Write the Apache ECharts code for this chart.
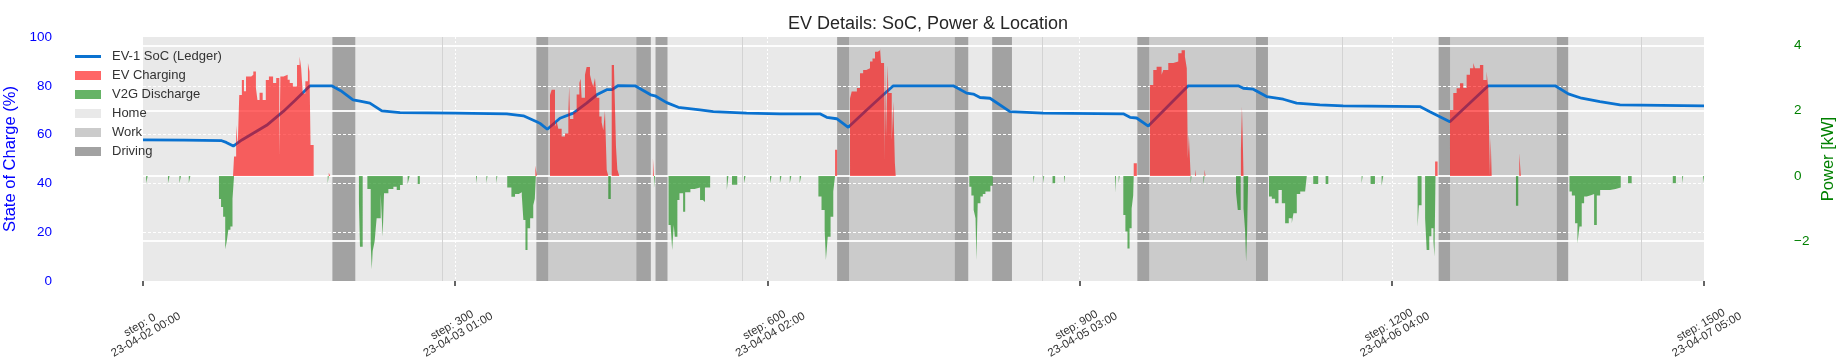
<!DOCTYPE html>
<html>
<head>
<meta charset="utf-8">
<script src="https://cdn.jsdelivr.net/npm/echarts@6/dist/echarts.min.js"></script>
<style>
html, body { margin: 0; padding: 0; background: #fff; }
#chart { width: 1836px; height: 363px; }
</style>
</head>
<body>
<div id="chart"></div>
<script>
// x ticks (simulation steps, 5 min each) and their date labels
var tickSteps = [0, 300, 600, 900, 1200, 1500];
var tickDates = ['23-04-02 00:00', '23-04-03 01:00', '23-04-04 02:00', '23-04-05 03:00', '23-04-06 04:00', '23-04-07 05:00'];
var stepsPerDay = 288;

// [step, SoC %]
var socPoints = [
    [0, 57.8], [40, 57.7], [75.6, 57.5], [80, 56.8], [86.8, 55.3], [95, 57.8], [118.8, 63.8], [134.8, 69.5], [146, 74], [160.5, 80.0],
    [181.3, 80.0], [190, 78], [201.8, 74.2], [208.5, 73.7], [218, 72.9], [229.5, 69.7], [247, 69.0], [300, 68.8], [349.5, 68.5],
    [365.5, 67.7], [378.3, 65.3], [381.5, 64.6], [388.5, 62.2], [400.7, 66.7], [413.5, 68.8], [426.3, 72.9], [436, 76.3], [445.6, 78.4],
    [450.4, 78.4], [456.7, 80.1],
    [472.8, 80.0], [487.8, 76.3], [492, 75.9], [503.2, 73.1], [514.4, 71.2], [535.2, 70.1], [548, 69.4], [580, 68.8], [612, 68.5],
    [650.5, 68.5], [657, 67.1], [666.6, 66.5], [677.7, 63.0], [695.4, 70.1], [711.4, 76.3], [721, 80.0], [778.6, 80.0], [791.5, 77.0],
    [797.9, 76.6], [804.3, 75.2], [813.9, 74.9], [833.1, 69.4], [865, 68.8], [942, 68.5], [948.4, 67.1], [954.8, 66.8], [966, 63.5],
    [1004.4, 80.0], [1052.4, 80.0], [1057.3, 79.0], [1066.9, 78.6], [1079.7, 75.6], [1095.7, 74.5], [1108.5, 72.9], [1130.9, 72.2],
    [1153.3, 71.8], [1227, 71.5], [1236.6, 69.4], [1255.8, 65.3], [1292.7, 80.0], [1357, 80.0], [1369.6, 76.7], [1382.4, 74.9],
    [1400, 73.5], [1419.3, 72.2], [1500, 71.8]
];

// [step, kW] charging power, value holds until next point
var chargePoints = [
    [0, 0],
    [86.5, 0], [87.5, 0.6], [89.5, 1.56], [91, 0.9], [92.5, 2.48], [95, 2.94], [97, 2.6], [99, 3.05], [104, 3.1], [106, 3.2], [108.5, 2.7],
    [110, 2.33], [112, 2.55], [115, 2.33], [118, 2.94], [121, 3.05], [125, 2.85], [128, 3.0], [131, 0.6], [132, 3.05], [135, 3.1],
    [139, 2.95], [141, 2.85], [144, 2.74], [148, 3.4], [150.5, 3.66], [152, 3.3], [153.5, 2.53], [156, 2.9], [158.5, 3.46], [160, 3.2],
    [161, 0.95], [164, 0],
    [178.5, 0.1], [180, 0],
    [377, 0.32], [378.5, 0],
    [391.1, 2.48], [392.7, 2.64], [395.9, 1.51], [397.5, 1.67], [399.1, 1.45], [402.3, 1.21], [405.5, 1.3], [408.7, 1.92], [409.5, 2.74],
    [410.3, 1.75], [413.5, 1.95], [416.7, 2.5], [419.3, 2.85], [420.5, 2.98], [421.5, 2.4], [424.7, 3.1], [426.3, 3.34], [429.5, 3.1],
    [431.1, 2.89], [432.7, 2.74], [434.3, 3.0], [435.9, 2.4], [438.5, 1.82], [440.7, 1.65], [442.3, 1.4], [443.9, 2.0], [445.6, 0.18],
    [447.1, 0], [450.4, 3.4], [452.6, 3.3], [454.5, 0.9], [455.8, 0.2], [457.7, 0],
    [490, 0.54], [491, 0],
    [665, 0.8], [667, 0],
    [679.4, 2.38], [681, 2.59], [686, 2.7], [689, 3.15], [692, 3.25], [695, 3.3], [698.6, 3.51], [701, 3.6], [703.4, 3.81], [706, 3.85],
    [708.2, 3.92], [709.2, 3.46], [712.1, 0.44], [713, 3.46], [714, 1.21], [715.5, 3.4], [716.3, 2.54], [719.5, 1.1], [721, 2.28],
    [722.5, 0.4], [723.3, 0],
    [952, 0.39], [955, 0],
    [967.6, 2.79], [970.8, 3.25], [974, 3.35], [978.8, 3.1], [980.4, 3.25], [985.2, 3.46], [990, 3.51], [994.8, 3.76], [998, 3.85],
    [1001.2, 3.66], [1003, 3.3], [1004, 0.54], [1005, 1.26], [1006.7, 0],
    [1011, 0.2], [1012, 0], [1020, 0.2], [1021, 0],
    [1055, 0.8], [1056, 2.13], [1057, 0.8], [1057.5, 0],
    [1241.6, 0.44], [1244, 0],
    [1255.9, 2.02], [1259.1, 2.54], [1262.3, 2.69], [1265.5, 2.84], [1268.7, 2.7], [1271.9, 3.1], [1275.1, 3.3], [1278.3, 3.46],
    [1279.9, 3.3], [1284.7, 3.4], [1287.9, 2.94], [1291.1, 3.2], [1292.7, 2.7], [1294.3, 0], [1295, 1.16], [1296, 0],
    [1322.5, 0.7], [1324, 0],
    [1500, 0]
];

// [step, kW] V2G discharge (negative)
var dischargePoints = [
    [0, 0],
    [3, -0.22], [4.5, 0], [24, -0.22], [25.5, 0], [35, -0.22], [36.5, 0], [44, -0.22], [45.5, 0],
    [73, -0.71], [75, -0.95], [77, -1.25], [79, -2.25], [80.5, -2.0], [82, -1.65], [84, -1.55], [86, -0.7], [87.5, 0],
    [177.5, -0.22], [178.5, 0],
    [207.5, -0.84], [208.5, -2.17], [211.1, 0], [215.6, -0.4], [218.8, -2.07], [219.8, -2.86], [220.7, -2.3], [222.6, -2.0],
    [224.5, -1.3], [228.4, -0.55], [230.3, -1.86], [231.6, -0.53], [235.8, -0.4], [240.6, -0.33], [243.8, -0.43], [247, -0.28], [249.6, 0],
    [254.3, -0.25], [256.2, 0], [264, -0.25], [266, 0],
    [320, -0.22], [321, 0], [330, -0.22], [331, 0], [339.5, -0.22], [340.5, 0],
    [350, -0.35], [354, -0.64], [357.5, -0.55], [361, -0.5], [364, -0.6], [365.5, -1.35], [367.5, -2.27], [369.5, -1.6], [372, -1.3],
    [375, -0.9], [376.5, -0.7], [377.5, 0],
    [447.1, -0.71], [449.5, 0],
    [491, -0.38], [492, 0],
    [505, -1.5], [507, -1.55], [508.5, -2.27], [510, -1.5], [511, -1.86], [513.5, -0.74], [515.5, -0.53], [519, -1.1], [521, -0.5],
    [526, -0.4], [530, -0.35], [535.3, -0.74], [538, -0.8], [540, -0.35], [545, 0],
    [561, -0.43], [562.5, 0], [566, -0.27], [571, 0], [577.5, -0.22], [579, 0], [602.5, -0.22], [604, 0], [612, -0.22], [613.5, 0],
    [621.5, -0.22], [623, 0], [631, -0.22], [632.5, 0],
    [649, -0.63], [652, -1.04], [655, -1.66], [656.2, -2.58], [658, -1.86], [660.7, -1.25], [663.3, -0.48], [665, 0],
    [794, -0.33], [796, -0.6], [798.2, -1.04], [800, -1.3], [800.8, -2.58], [802.1, -0.84], [804.7, -0.63], [807, -0.55], [809.5, -0.48],
    [814.3, -0.3], [816.5, 0],
    [855.5, -0.22], [856.5, 0], [865, -0.22], [866, 0], [874, -0.22], [876.5, 0], [885, -0.22], [886, 0],
    [934, -0.53], [935, 0], [937.5, -0.22], [938.5, 0], [942, -1.2], [944, -1.7], [946, -2.22], [948, -1.6], [950, -1.0], [951.5, -0.6], [952, 0],
    [1006.7, -0.28], [1007.5, 0], [1019, -0.28], [1020, 0],
    [1050.3, -0.5], [1052, -1.04], [1054.8, 0], [1057.5, -1.0], [1059, -1.66], [1060, -2.63], [1061, -1.66], [1062, 0],
    [1082, -0.63], [1084.7, -0.7], [1087.9, -0.84], [1091.1, -0.43], [1094.3, -0.84], [1097.5, -1.45], [1101, -1.3], [1103.9, -1.45],
    [1105.5, -1.14], [1108.7, -0.55], [1112, -0.48], [1116.7, -0.45], [1118.3, 0],
    [1124.5, -0.25], [1129.3, 0], [1136.4, -0.25], [1139, 0], [1171, -0.22], [1172, 0], [1179.6, -0.25], [1183.8, 0], [1190.2, -0.3], [1191.8, 0],
    [1224.8, -1.55], [1226, -0.9], [1228.6, 0], [1232, -1.3], [1233.5, -2.27], [1236, -1.85], [1238, -1.6], [1240, -2.0], [1241, -2.47], [1242, 0],
    [1319.3, -0.91], [1321.5, 0],
    [1370.7, -0.48], [1373, -0.6], [1376.1, -1.45], [1378.4, -2.07], [1380.3, -1.55], [1382.5, -0.84], [1384.8, -0.63], [1387.3, -0.58],
    [1392, -0.55], [1394.4, -1.5], [1397, -0.6], [1400.2, -0.43], [1409.8, -0.4], [1415, -0.35], [1420, 0],
    [1427, -0.22], [1430.5, 0], [1470, -0.22], [1473, 0], [1479, -0.22], [1480, 0], [1499, -0.22], [1500, 0]
];

// location spans [fromStep, toStep]
var homeSegs = [[0, 182], [204, 378], [488, 492.5], [504, 667], [793, 816], [835, 955.5], [1081, 1245], [1369.5, 1500]];
var workSegs = [[389.5, 474], [678.5, 780], [967, 1069.5], [1256, 1358.5]];
var driveSegs = [[182, 204], [378, 389.5], [474, 488], [492.5, 504], [667, 678.5], [780, 793], [816, 835], [955.5, 967],
    [1069.5, 1081], [1245, 1256], [1358.5, 1369.5]];

var FONT = "'Liberation Sans', Arial, sans-serif";

function bandSeries(name, color, segs) {
    return {
        name: name,
        type: 'line',
        data: [],
        color: color,
        itemStyle: { color: color },
        z: 1,
        markArea: {
            silent: true,
            z: 1,
            itemStyle: { color: color },
            data: segs.map(function (s) { return [{ xAxis: s[0] }, { xAxis: s[1] }]; })
        }
    };
}

// hidden-line x axis that only carries labels
function labelAxis(margin, padding, formatter) {
    return {
        type: 'value',
        position: 'bottom',
        min: 0, max: 1500, interval: 300,
        z: 2,
        axisLine: { show: false },
        axisTick: { show: false },
        splitLine: { show: false },
        axisLabel: {
            rotate: 30,
            align: 'center',
            verticalAlign: 'middle',
            margin: margin,
            padding: padding,
            fontFamily: FONT, fontSize: 11.5, color: '#333',
            formatter: formatter
        }
    };
}

var option = {
    animation: false,
    title: {
        text: 'EV Details: SoC, Power & Location',
        left: 783,
        top: 10,
        textStyle: { fontFamily: FONT, fontSize: 18, fontWeight: 'normal', color: '#262626' }
    },
    legend: {
        orient: 'vertical',
        left: 75,
        top: 50,
        padding: 0,
        itemWidth: 26,
        itemHeight: 9,
        itemGap: 6,
        textStyle: { fontFamily: FONT, fontSize: 13, color: '#333', padding: [0, 0, 0, 6] },
        data: [
            { name: 'EV-1 SoC (Ledger)', icon: 'path://M0,0 L26,0 L26,3 L0,3 Z' },
            { name: 'EV Charging', icon: 'rect' },
            { name: 'V2G Discharge', icon: 'rect' },
            { name: 'Home', icon: 'rect' },
            { name: 'Work', icon: 'rect' },
            { name: 'Driving', icon: 'rect' }
        ]
    },
    grid: {
        left: 143, right: 132, top: 37, bottom: 82,
        outerBoundsMode: 'none',
        containLabel: false,
        show: true, backgroundColor: '#eaeaea', borderWidth: 0, z: 0
    },
    xAxis: [{
        type: 'value',
        min: 0, max: 1500, interval: 300,
        z: 2,
        axisLine: { show: false },
        axisTick: { show: true, length: 5, lineStyle: { color: '#333', width: 1.5 } },
        axisLabel: { show: false },
        splitLine: { show: true, showMinLine: false, showMaxLine: false, lineStyle: { color: '#ffffff', width: 1, type: [2, 2] } }
    }, {
        type: 'value',
        position: 'bottom',
        min: 0, max: 1500, interval: stepsPerDay,
        z: 2,
        axisLine: { show: false },
        axisTick: { show: false },
        axisLabel: { show: false },
        splitLine: { show: true, showMinLine: false, showMaxLine: false, lineStyle: { color: '#d3d3d3', width: 1 } }
    },
        labelAxis(42.5, [0, 7, 0, 0], function (v) { return 'step: ' + v; }),
        labelAxis(55.5, [0, 0, 0, 7], function (v) { return tickDates[tickSteps.indexOf(v)]; })
    ],
    yAxis: [{
        type: 'value',
        min: 0, max: 100, interval: 20,
        z: 2,
        name: 'State of Charge (%)',
        nameLocation: 'middle',
        nameGap: 120,
        nameTextStyle: { fontFamily: FONT, fontSize: 16.5, color: '#0000ff' },
        axisLine: { show: false },
        axisTick: { show: false },
        axisLabel: { margin: 91, fontFamily: FONT, fontSize: 13.5, color: '#0000ff' },
        splitLine: { show: true, showMinLine: false, showMaxLine: false, lineStyle: { color: '#ffffff', width: 1, type: [3, 2] } }
    }, {
        type: 'value',
        position: 'right',
        min: -3.22, max: 4.26, minInterval: 2, maxInterval: 2,
        z: 2,
        name: 'Power [kW]',
        nameLocation: 'middle',
        nameGap: 108,
        nameTextStyle: { fontFamily: FONT, fontSize: 16.5, color: '#008000' },
        axisLine: { show: false },
        axisTick: { show: false },
        axisLabel: {
            margin: 90, showMinLabel: false, showMaxLabel: false,
            fontFamily: FONT, fontSize: 13.5, color: '#008000',
            formatter: function (v) { return v < 0 ? '\u2212' + (-v) : String(v); }
        },
        splitLine: { show: true, showMinLine: false, showMaxLine: false, lineStyle: { color: 'rgba(255,255,255,0.9)', width: 2 } }
    }],
    series: [
        bandSeries('Home', '#e9e9e9', homeSegs),
        bandSeries('Work', '#cbcbcb', workSegs),
        bandSeries('Driving', '#a2a2a2', driveSegs),
        {
            name: 'EV-1 SoC (Ledger)',
            type: 'line',
            xAxisIndex: 0, yAxisIndex: 0,
            data: socPoints,
            showSymbol: false, symbol: 'none',
            color: '#0a72d0',
            lineStyle: { color: '#0a72d0', width: 2.8 },
            z: 3
        },
        {
            name: 'EV Charging',
            type: 'line',
            xAxisIndex: 0, yAxisIndex: 1,
            step: 'end',
            data: chargePoints,
            symbol: 'none',
            color: 'rgba(255,0,0,0.6)',
            itemStyle: { color: 'rgba(255,0,0,0.6)' },
            lineStyle: { width: 0, opacity: 0 },
            areaStyle: { color: 'rgba(255,0,0,0.6)', opacity: 1 },
            z: 4
        },
        {
            name: 'V2G Discharge',
            type: 'line',
            xAxisIndex: 0, yAxisIndex: 1,
            step: 'end',
            data: dischargePoints,
            symbol: 'none',
            color: 'rgba(0,128,0,0.6)',
            itemStyle: { color: 'rgba(0,128,0,0.6)' },
            lineStyle: { width: 0, opacity: 0 },
            areaStyle: { color: 'rgba(0,128,0,0.6)', opacity: 1 },
            z: 4
        }
    ]
};

var chart = echarts.init(document.getElementById('chart'));
chart.setOption(option);
</script>
</body>
</html>
